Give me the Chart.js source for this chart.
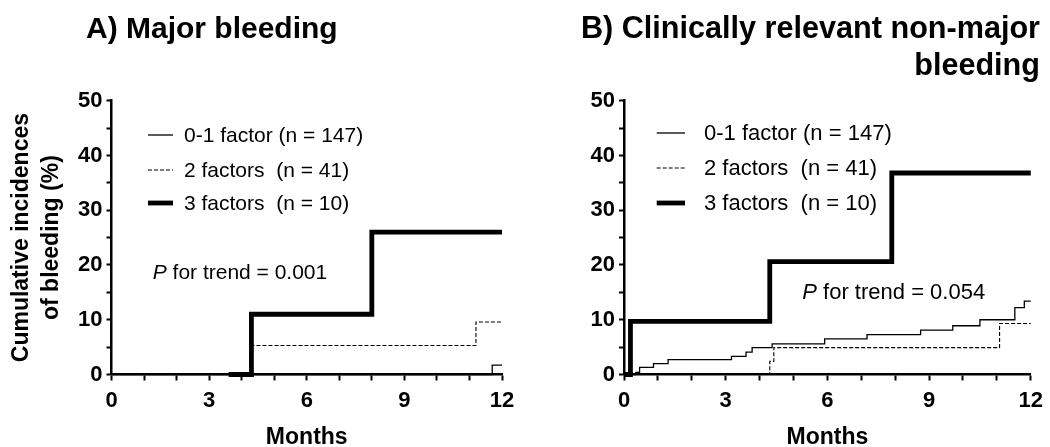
<!DOCTYPE html>
<html><head><meta charset="utf-8">
<script src="https://cdn.jsdelivr.net/npm/chart.js@4.4.1/dist/chart.umd.min.js"></script>
<style>
html,body{margin:0;padding:0;background:#fff;width:1050px;height:447px;overflow:hidden}
.wrap{position:absolute;top:0;width:525px;height:447px}
canvas{display:block}
</style></head><body>
<div class="wrap" style="left:0"><canvas id="cA" width="525" height="447"></canvas></div>
<div class="wrap" style="left:525px"><canvas id="cB" width="525" height="447"></canvas></div>
<script>
// ---- data ----
const seriesNames = ['0-1 factor (n = 147)', '2 factors  (n = 41)', '3 factors  (n = 10)'];
const xLabelStep = 3;   // months labelled: 0,3,6,9,12
const yLabelStep = 10;  // % labelled: 0..50

// Panel A: major bleeding
const majorLowX  = [0, 11.7, 12];
const majorLowY  = [0, 1.7, 1.7];
const majorMidX  = [0, 4.3, 11.2, 12];
const majorMidY  = [0, 5.3, 9.6, 9.6];
const majorHighX = [3.6, 4.3, 8.0, 12];
const majorHighY = [0, 11.0, 26.0, 26.0];

// Panel B: clinically relevant non-major bleeding
const crnmLowX  = [0, 0.35, 0.46, 0.87, 1.30, 3.17, 3.60, 3.78, 4.37, 5.92, 7.17, 8.75, 9.70, 10.50, 11.53, 11.81, 12];
const crnmLowY  = [0, 0.4, 1.3, 2.0, 2.7, 3.3, 4.1, 4.9, 5.6, 6.5, 7.3, 8.1, 8.9, 10.0, 12.2, 13.4, 13.4];
const crnmMidX  = [0, 4.30, 4.42, 11.08, 12];
const crnmMidY  = [0, 2.4, 4.9, 9.3, 9.3];
const crnmHighX = [0, 0.19, 4.30, 7.90, 12];
const crnmHighY = [0, 9.7, 20.6, 36.8, 36.8];

const titleA = ['A) Major bleeding'];
const titleB = ['B) Clinically relevant non-major', 'bleeding'];
const pTextA = ['P', ' for trend = 0.001'];
const pTextB = ['P', ' for trend = 0.054'];
const yTitle = ['Cumulative incidences', 'of bleeding (%)'];
const xTitle = 'Months';

// ---- helpers ----
const FONT = '"Liberation Sans", Arial, Helvetica, sans-serif';
Chart.defaults.font.family = FONT;
Chart.defaults.color = '#000';

const zip = (xs, ys) => xs.map((x, i) => ({x, y: ys[i]}));
const styles = [
  {borderWidth: 1.3, borderDash: []},
  {borderWidth: 1.1, borderDash: [4, 2]},
  {borderWidth: 4.8, borderDash: []}
];
function makeDatasets(sets) {
  return sets.map((s, i) => ({
    label: seriesNames[i],
    data: zip(s[0], s[1]),
    stepped: 'before',
    borderColor: '#000',
    borderWidth: styles[i].borderWidth,
    borderDash: styles[i].borderDash,
    pointRadius: 0,
    fill: false,
    clip: false,
    borderCapStyle: 'butt',
    borderJoinStyle: 'miter'
  }));
}

function annotPlugin(o) {
  return {
    id: 'annot',
    afterDraw(chart) {
      const ctx = chart.ctx;
      ctx.save();
      ctx.fillStyle = '#000';
      // title
      ctx.font = 'bold ' + o.titleSize + 'px ' + FONT;
      ctx.textBaseline = 'alphabetic';
      o.title.forEach((t, i) => {
        ctx.textAlign = o.titleAlign;
        ctx.fillText(t, o.titleX, o.titleY + i * 37);
      });
      // legend
      ctx.font = o.txtSize + 'px ' + FONT;
      ctx.textAlign = 'left';
      ctx.textBaseline = 'middle';
      chart.data.datasets.forEach((ds, i) => {
        const y = o.legY[i];
        ctx.beginPath();
        ctx.lineWidth = ds.borderWidth;
        ctx.setLineDash(ds.borderDash);
        ctx.strokeStyle = '#000';
        ctx.moveTo(o.legX0, y);
        ctx.lineTo(o.legX1, y);
        ctx.stroke();
        ctx.setLineDash([]);
        ctx.fillText(ds.label, o.legTextX, y + 1);
      });
      // P for trend
      ctx.font = 'italic ' + o.txtSize + 'px ' + FONT;
      ctx.fillText(o.p[0], o.pX, o.pY);
      const w = ctx.measureText(o.p[0]).width;
      ctx.font = o.txtSize + 'px ' + FONT;
      ctx.fillText(o.p[1], o.pX + w, o.pY);
      ctx.restore();
    }
  };
}

function makeChart(id, sets, o) {
  return new Chart(document.getElementById(id), {
    type: 'line',
    data: {datasets: makeDatasets(sets)},
    options: {
      responsive: false,
      animation: false,
      events: [],
      layout: {padding: {left: 0, right: o.padRight, top: 100.7, bottom: 0}},
      plugins: {legend: {display: false}, tooltip: {enabled: false}, title: {display: false}},
      scales: {
        x: {
          type: 'linear', min: 0, max: 12,
          afterFit: s => { s.height = 447 - 374.5; },
          ticks: {stepSize: 1, autoSkip: false, maxRotation: 0, padding: 7,
            font: {size: o.tickSize, weight: 'bold'}, color: '#000',
            callback: v => (v % xLabelStep === 0 ? String(v) : '')},
          grid: {drawOnChartArea: false, drawTicks: true, tickLength: 6, tickColor: '#000', tickWidth: 2},
          border: {display: true, color: '#000', width: 2.5},
          title: {display: true, text: xTitle, font: {size: 23, weight: 'bold', lineHeight: 1.2}, color: '#000', padding: {top: 0, bottom: -4}}
        },
        y: {
          min: 0, max: 50,
          afterFit: s => { s.width = o.yWidth; },
          ticks: {stepSize: 5, autoSkip: false, padding: 4,
            font: {size: o.tickSize, weight: 'bold'}, color: '#000',
            callback: v => (v % yLabelStep === 0 ? String(v) : '')},
          grid: {drawOnChartArea: false, drawTicks: true, tickLength: 5, tickColor: '#000', tickWidth: 2},
          border: {display: true, color: '#000', width: 2.5},
          title: {display: o.showYTitle, text: yTitle, font: {size: 23, weight: 'bold', lineHeight: 1.3}, color: '#000', padding: {top: 7, bottom: 0}}
        }
      }
    },
    plugins: [annotPlugin(o)]
  });
}

makeChart('cA', [[majorLowX, majorLowY], [majorMidX, majorMidY], [majorHighX, majorHighY]], {
  padRight: 23, yWidth: 111.5, showYTitle: true, tickSize: 22, txtSize: 21,
  title: titleA, titleAlign: 'left', titleX: 86, titleY: 38, titleSize: 30,
  legX0: 148, legX1: 173, legTextX: 184, legY: [135, 170, 203],
  p: pTextA, pX: 152.7, pY: 273
});
makeChart('cB', [[crnmLowX, crnmLowY], [crnmMidX, crnmMidY], [crnmHighX, crnmHighY]], {
  padRight: 11.7, yWidth: 99, showYTitle: false, tickSize: 22, txtSize: 22,
  title: titleB, titleAlign: 'right', titleX: 515, titleY: 38, titleSize: 30.6,
  legX0: 131.7, legX1: 160, legTextX: 179, legY: [133, 168, 203],
  p: pTextB, pX: 277.3, pY: 293
});
</script>
</body></html>
